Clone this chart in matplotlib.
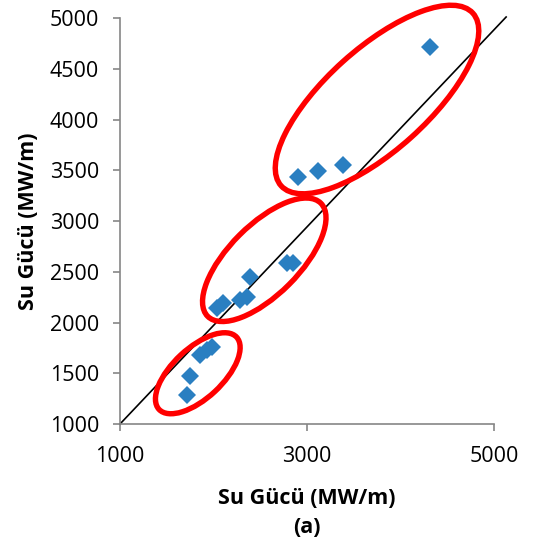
import matplotlib
matplotlib.use("Agg")
import matplotlib.pyplot as plt
from matplotlib.patches import Ellipse
from matplotlib.transforms import ScaledTranslation

plt.rcParams['font.family'] = ['Open Sans', 'DejaVu Sans']

# measured vs. computed water power (MW/m)
x_vals = [1713, 1749, 1856, 1927, 1981, 2034, 2102, 2283, 2355, 2390,
          2783, 2850, 2904, 3118, 3385, 4316]
y_vals = [1286, 1473, 1680, 1729, 1762, 2143, 2192, 2222, 2254, 2451,
          2586, 2589, 3433, 3493, 3552, 4717]

# hand drawn 1:1 line (runs a bit past the axis end like in the original)
line_x = [1000, 5130]
line_y = [1000, 5010]

x_ticks = [1000, 3000, 5000]
y_ticks = [1000, 1500, 2000, 2500, 3000, 3500, 4000, 4500, 5000]

# group ellipses: centre in data units, semi axes in pixels, angle in deg
groups = [
    ((1832, 1500), 53, 25, 43),
    ((2543, 2618), 80, 35, 45),
    ((3749, 4197), 129, 51, 42),
]

fig = plt.figure(figsize=(5.36, 5.51), dpi=100)
ax = fig.add_axes([0.2239, 0.2305, 0.6977, 0.7368])

ax.plot(line_x, line_y, color='black', lw=1.2, clip_on=False, zorder=2)
ax.plot(x_vals, y_vals, linestyle='none', marker='D', ms=9.6,
        color='#2a7fc1', markeredgewidth=0, zorder=3)

for (cx, cy), a, b, ang in groups:
    e = Ellipse((0, 0), 2 * a, 2 * b, angle=ang, fill=False,
                edgecolor='#ff0000', lw=3.9, zorder=4, clip_on=False,
                transform=ScaledTranslation(cx, cy, ax.transData))
    ax.add_artist(e)

ax.set_xlim(1000, 5000)
ax.set_ylim(1000, 5000)
ax.set_xticks(x_ticks)
ax.set_yticks(y_ticks)

for s in ['top', 'right']:
    ax.spines[s].set_visible(False)
for s in ['left', 'bottom']:
    ax.spines[s].set_color('#868686')
    ax.spines[s].set_linewidth(1.2)

ax.tick_params(axis='both', direction='out', length=5, width=1.2,
               color='#868686', labelsize=15.5, labelcolor='black')
ax.tick_params(axis='y', pad=10)
ax.tick_params(axis='x', pad=11)

ax.set_xlabel('Su Gücü (MW/m)\n(a)', fontsize=15.5, fontweight='bold',
              multialignment='center', labelpad=15, linespacing=1.5)
ax.set_ylabel('Su Gücü (MW/m)', fontsize=15.5, fontweight='bold', labelpad=8)

fig.savefig('out.png', dpi=100)
